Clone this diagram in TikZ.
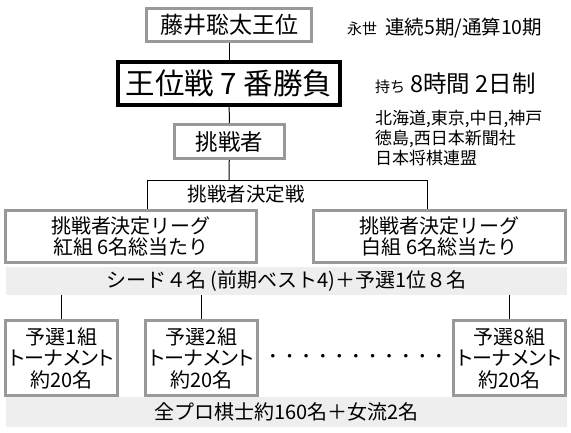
\documentclass[tikz,border=0pt]{standalone}
\usepackage{fontspec}
\setmainfont{Noto Sans CJK JP}
\newfontfamily\proptext[RawFeature=+palt]{Noto Sans CJK JP}
\definecolor{boxgray}{RGB}{153,153,153}
\definecolor{bandgray}{RGB}{238,238,238}
\newcommand{\fsz}[2]{\fontsize{#1}{#2}\selectfont}
\begin{document}
\begin{tikzpicture}[x=1pt,y=-1pt,
  gbox/.style={draw=boxgray, line width=3pt, fill=white, inner sep=0pt, align=center},
  kbox/.style={draw=black, line width=4pt, fill=white, inner sep=0pt, align=center},
  band/.style={fill=bandgray, inner sep=0pt, minimum width=561pt, align=center},
  conn/.style={draw=black, line width=1pt},
  note/.style={anchor=base west, inner sep=0pt}]
\useasboundingbox (0,0) rectangle (571,432);
% bands
\node[band, minimum height=28pt, font=\fsz{20}{22}] (band1) at (286.5,281) {シード４名 (前期ベスト4)＋予選1位８名};
\node[band, minimum height=30pt, font=\fsz{20}{22}] (band2) at (286.5,412) {全プロ棋士約160名＋女流2名};
% top chain
\node[gbox, minimum width=165pt, minimum height=33pt, font=\fsz{23}{25}] (b1) at (229,25) {藤井聡太王位};
\node[kbox, minimum width=222pt, minimum height=43pt, font=\fsz{29.5}{31}] (b2) at (229,83.5) {王位戦 7 番勝負};
\node[gbox, minimum width=110pt, minimum height=34pt, font=\fsz{22.5}{24}] (b3) at (229.5,141.5) {挑戦者};
% notes
\node[note] (n1) at (347,34) {{\fsz{15}{17}永世}\hspace{8pt}{\fsz{19.5}{21}連続5期/通算10期}};
\node[note] (n2) at (375,92) {{\fsz{15}{17}持ち}\hspace{5pt}{\fsz{23.5}{25}8時間 2日制}};
\node[note, font=\fsz{17}{19}] (n3) at (375,124) {北海道,東京,中日,神戸};
\node[note, font=\fsz{17}{19}] (n4) at (375,144.5) {徳島,西日本新聞社};
\node[note, font=\fsz{17}{19}] (n5) at (375,164.5) {日本将棋連盟};
% league
\node[gbox, minimum width=251pt, minimum height=52pt, font=\fsz{20}{21}] (lg) at (131,236.5) {挑戦者決定リーグ\\紅組 6名総当たり};
\node[gbox, minimum width=252pt, minimum height=52pt, font=\fsz{20}{21}] (rg) at (439.5,236.5) {挑戦者決定リーグ\\白組 6名総当たり};
\node[inner sep=0pt, font=\fsz{19.5}{21}] (ket) at (246,194.5) {挑戦者決定戦};
% qualifiers
\node[gbox, minimum width=112pt, minimum height=75pt, font=\proptext\fsz{20}{21.5}] (q1) at (61.5,358) {予選1組\\トーナメント\\約20名};
\node[gbox, minimum width=112pt, minimum height=75pt, font=\proptext\fsz{20}{21.5}] (q2) at (201.5,358) {予選2組\\トーナメント\\約20名};
\node[gbox, minimum width=112pt, minimum height=75pt, font=\proptext\fsz{20}{21.5}] (q8) at (509.5,358) {予選8組\\トーナメント\\約20名};
\node[inner sep=0pt, font=\fsz{16.6}{18}] (dots) at (356,358) {・・・・・・・・・・・};
% connectors
\coordinate (j) at (229,180);
\coordinate (jl) at (147,180);
\coordinate (jr) at (427,180);
\draw[conn] (b1) -- (b2);
\draw[conn] (b2) -- (b3);
\draw[conn] (b3) -- (j);
\draw[conn] (jl) -- (jr);
\draw[conn] (jl) -- (jl |- lg.north);
\draw[conn] (jr) -- (jr |- rg.north);
\draw[conn] (q1.north) -- (q1.north |- band1.south);
\draw[conn] (q2.north) -- (q2.north |- band1.south);
\draw[conn] (q8.north) -- (q8.north |- band1.south);
\end{tikzpicture}
\end{document}
